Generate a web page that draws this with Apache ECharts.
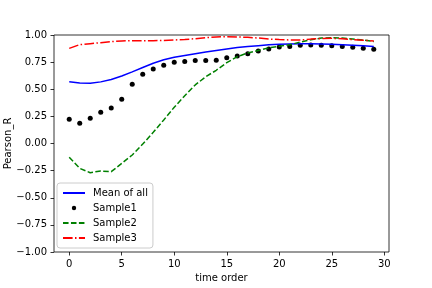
<!DOCTYPE html>
<html>
<head>
<meta charset="utf-8">
<style>html,body{margin:0;padding:0;background:#fff}#c{width:432px;height:288px}</style>
<script src="https://cdn.jsdelivr.net/npm/echarts@6/dist/echarts.min.js"></script>
</head>
<body>
<div id="c"></div>
<script>
const timeOrder = [0,1,2,3,4,5,6,7,8,9,10,11,12,13,14,15,16,17,18,19,20,21,22,23,24,25,26,27,28,29];
const meanOfAll = [0.570,0.558,0.555,0.568,0.590,0.622,0.660,0.700,0.740,0.772,0.795,0.812,0.828,0.843,0.857,0.871,0.884,0.894,0.902,0.910,0.915,0.918,0.920,0.920,0.918,0.915,0.910,0.905,0.900,0.894];
const sample1 = [0.223,0.186,0.232,0.288,0.327,0.407,0.546,0.638,0.687,0.722,0.748,0.755,0.765,0.765,0.768,0.790,0.806,0.828,0.852,0.872,0.890,0.893,0.905,0.908,0.905,0.900,0.895,0.886,0.877,0.868];
const sample2 = [-0.127,-0.229,-0.269,-0.253,-0.260,-0.183,-0.106,-0.005,0.103,0.217,0.334,0.440,0.540,0.615,0.675,0.745,0.800,0.835,0.857,0.882,0.897,0.910,0.935,0.955,0.972,0.975,0.972,0.963,0.954,0.940];
const sample3 = [0.877,0.911,0.920,0.929,0.940,0.945,0.948,0.948,0.948,0.950,0.954,0.958,0.966,0.975,0.982,0.985,0.982,0.979,0.972,0.963,0.958,0.954,0.954,0.962,0.968,0.970,0.965,0.958,0.952,0.945];
const xTicks = [0,5,10,15,20,25,30];
const seriesNames = ['Mean of all','Sample1','Sample2','Sample3'];

const pair = arr => timeOrder.map((t,i)=>[t,arr[i]]);
const font = 'DejaVu Sans';
const hiddenSymbol = {color:'rgba(0,0,0,0)',borderWidth:0,opacity:0};
const chart = echarts.init(document.getElementById('c'), null, {renderer:'canvas'});
chart.setOption({
  animation:false,
  backgroundColor:'#fff',
  grid:{left:54,right:43,top:35,bottom:36,containLabel:false,outerBoundsMode:'none',
        show:true,borderColor:'#000',borderWidth:0.8,backgroundColor:'transparent'},
  xAxis:{
    type:'value',min:-1.45,max:30.45,position:'bottom',
    name:'time order',nameLocation:'middle',nameGap:21,nameMoveOverlap:false,
    nameTextStyle:{fontFamily:font,fontSize:10,color:'#000'},
    axisLine:{show:false,onZero:false},
    splitLine:{show:false},
    axisTick:{show:true,length:3.5,inside:false,lineStyle:{color:'#000',width:0.8},customValues:xTicks},
    axisLabel:{show:true,margin:7.5,fontFamily:font,fontSize:10,color:'#000',customValues:xTicks}
  },
  yAxis:{
    type:'value',min:-1,max:1,interval:0.25,position:'left',
    name:'Pearson_R',nameLocation:'middle',nameGap:41,nameMoveOverlap:false,
    nameTextStyle:{fontFamily:font,fontSize:10,color:'#000'},
    axisLine:{show:false,onZero:false},
    splitLine:{show:false},
    axisTick:{show:true,length:3.5,inside:false,lineStyle:{color:'#000',width:0.8}},
    axisLabel:{margin:7,fontFamily:font,fontSize:10,color:'#000',
      formatter:v=>v.toFixed(2).replace('-','\u2212')}
  },
  legend:{
    orient:'vertical',left:57,top:183,
    itemWidth:22,itemHeight:8,itemGap:3,
    padding:[4,5,4,5],
    backgroundColor:'rgba(255,255,255,0.8)',borderColor:'#cccccc',borderWidth:1,borderRadius:3,
    textStyle:{fontFamily:font,fontSize:10,color:'#000',lineHeight:12,padding:[0,0,0,3]},
    data:[
      {name:seriesNames[0],itemStyle:hiddenSymbol},
      {name:seriesNames[1],icon:'path://M0,0M22,8M13.2,4A2.2,2.2,0,1,1,8.8,4A2.2,2.2,0,1,1,13.2,4Z'},
      {name:seriesNames[2],itemStyle:hiddenSymbol},
      {name:seriesNames[3],itemStyle:hiddenSymbol}
    ]
  },
  series:[
    {name:seriesNames[0],type:'line',data:pair(meanOfAll),symbol:'none',showSymbol:false,
     lineStyle:{color:'#0000ff',width:1.5},itemStyle:{color:'#0000ff'}},
    {name:seriesNames[1],type:'scatter',data:pair(sample1),symbol:'circle',symbolSize:5,
     itemStyle:{color:'#000',opacity:1}},
    {name:seriesNames[2],type:'line',data:pair(sample2),symbol:'none',showSymbol:false,
     lineStyle:{color:'#008000',width:1.5,type:[5.55,2.4]},itemStyle:{color:'#008000'}},
    {name:seriesNames[3],type:'line',data:pair(sample3),symbol:'none',showSymbol:false,
     lineStyle:{color:'#ff0000',width:1.5,type:[9.6,2.4,1.5,2.4]},itemStyle:{color:'#ff0000'}}
  ]
});
</script>
</body>
</html>
